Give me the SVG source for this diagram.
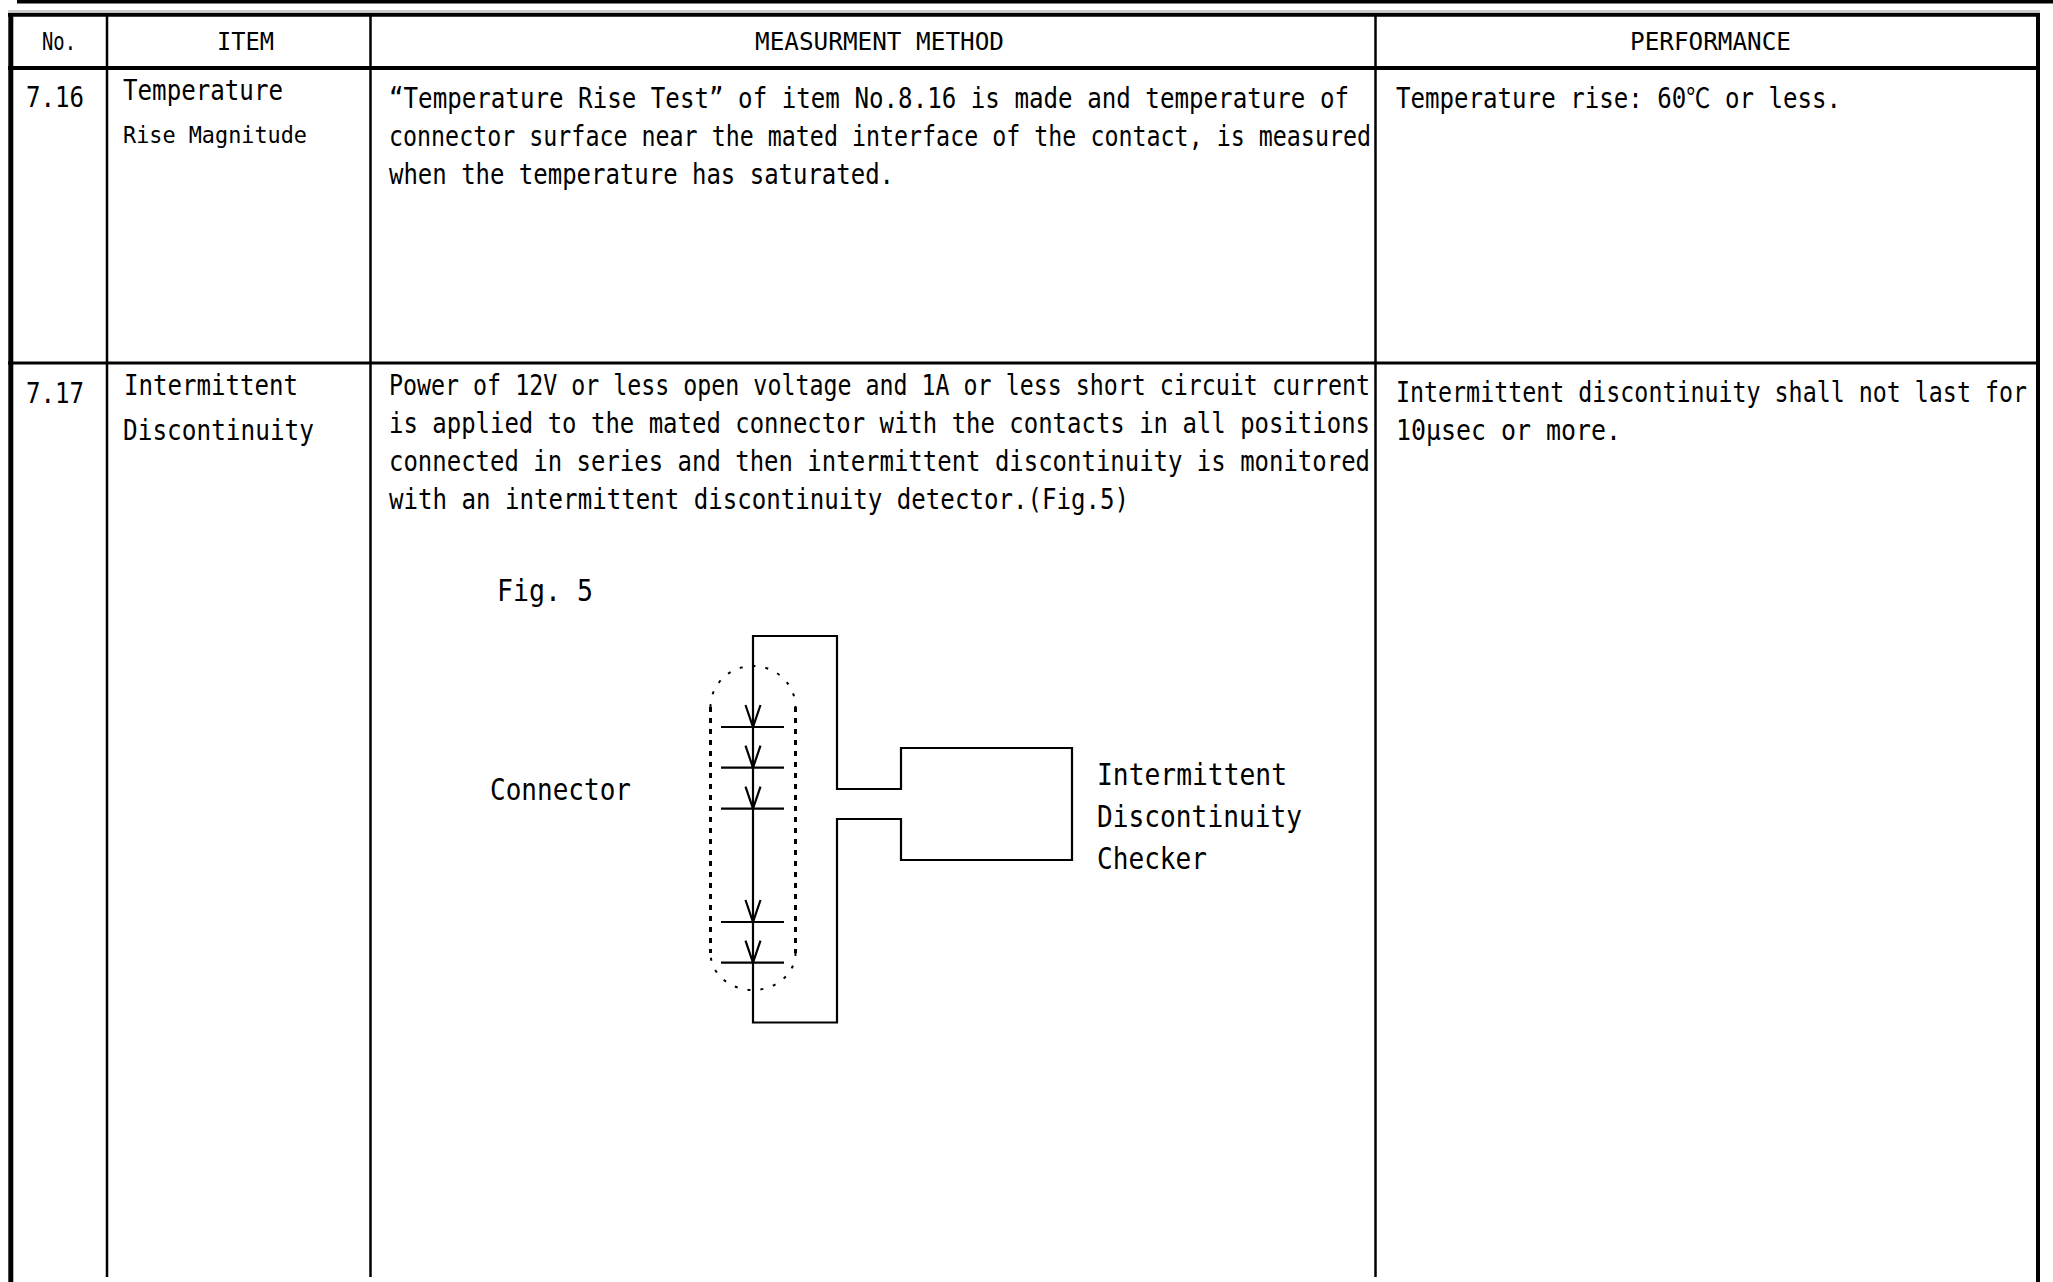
<svg xmlns="http://www.w3.org/2000/svg" width="2053" height="1282" viewBox="0 0 2053 1282">
<style>
.t{font-family:"DejaVu Sans Mono","Liberation Mono","Noto Sans CJK JP",monospace;fill:#000;font-size:23.3px}
.h{font-size:24px}
.s{font-size:21.8px}
.i{font-size:24.1px}
.f{font-size:26.2px}
.grid{stroke:#000;fill:none}
.w{stroke:#000;stroke-width:2.2;fill:none;stroke-linejoin:miter}
.dot{stroke:#000;fill:none}
</style>
<rect width="2053" height="1282" fill="#fff"/>
<g id="table">
<rect x="17" y="0" width="2036" height="3.5" fill="#000"/>
<line x1="8" y1="11" x2="2040" y2="11" stroke="#999" stroke-width="1"/>
<line class="grid" x1="8" y1="14.7" x2="2040" y2="14.7" stroke-width="4"/>
<line class="grid" x1="10.8" y1="13" x2="10.8" y2="1282" stroke-width="5"/>
<line class="grid" x1="2038" y1="13" x2="2038" y2="1282" stroke-width="4"/>
<line class="grid" x1="8" y1="68" x2="2040" y2="68" stroke-width="4"/>
<line class="grid" x1="8" y1="363" x2="2040" y2="363" stroke-width="3"/>
<line class="grid" x1="107" y1="15" x2="107" y2="1277" stroke-width="2.5"/>
<line class="grid" x1="370.5" y1="15" x2="370.5" y2="1277" stroke-width="2.5"/>
<line class="grid" x1="1375.5" y1="15" x2="1375.5" y2="1277" stroke-width="2.5"/>
</g>
<g id="header">
<text class="t h" transform="translate(42 50) scale(1 1.05)" textLength="34" lengthAdjust="spacingAndGlyphs">No.</text>
<text class="t h" transform="translate(217 50) scale(1 1.05)" textLength="57" lengthAdjust="spacingAndGlyphs">ITEM</text>
<text class="t h" transform="translate(755 50) scale(1 1.05)" textLength="249" lengthAdjust="spacingAndGlyphs">MEASURMENT METHOD</text>
<text class="t h" transform="translate(1630 50) scale(1 1.05)" textLength="161" lengthAdjust="spacingAndGlyphs">PERFORMANCE</text>
</g>
<g id="row-7-16">
<text class="t" transform="translate(26 107) scale(1 1.18)" textLength="58" lengthAdjust="spacingAndGlyphs">7.16</text>
<text class="t i" transform="translate(123 100) scale(1 1.14)" textLength="160" lengthAdjust="spacingAndGlyphs">Temperature</text>
<text class="t s" transform="translate(123 143) scale(1 1.02)" textLength="184" lengthAdjust="spacingAndGlyphs">Rise Magnitude</text>
<text class="t" transform="translate(389 108) scale(1 1.18)" textLength="960" lengthAdjust="spacingAndGlyphs">“Temperature Rise Test” of item No.8.16 is made and temperature of</text>
<text class="t" transform="translate(389 146) scale(1 1.18)" textLength="982" lengthAdjust="spacingAndGlyphs">connector surface near the mated interface of the contact, is measured</text>
<text class="t" transform="translate(389 184) scale(1 1.18)" textLength="505" lengthAdjust="spacingAndGlyphs">when the temperature has saturated.</text>
<text class="t" transform="translate(1396 108) scale(1 1.18)" textLength="445" lengthAdjust="spacingAndGlyphs">Temperature rise: 60℃ or less.</text>
</g>
<g id="row-7-17">
<text class="t" transform="translate(26 403) scale(1 1.18)" textLength="58" lengthAdjust="spacingAndGlyphs">7.17</text>
<text class="t i" transform="translate(124 395) scale(1 1.14)" textLength="174" lengthAdjust="spacingAndGlyphs">Intermittent</text>
<text class="t i" transform="translate(123 440) scale(1 1.14)" textLength="191" lengthAdjust="spacingAndGlyphs">Discontinuity</text>
<text class="t" transform="translate(389 395) scale(1 1.18)" textLength="981" lengthAdjust="spacingAndGlyphs">Power of 12V or less open voltage and 1A or less short circuit current</text>
<text class="t" transform="translate(389 433) scale(1 1.18)" textLength="981" lengthAdjust="spacingAndGlyphs">is applied to the mated connector with the contacts in all positions</text>
<text class="t" transform="translate(389 471) scale(1 1.18)" textLength="981" lengthAdjust="spacingAndGlyphs">connected in series and then intermittent discontinuity is monitored</text>
<text class="t" transform="translate(389 509) scale(1 1.18)" textLength="740" lengthAdjust="spacingAndGlyphs">with an intermittent discontinuity detector.(Fig.5)</text>
<text class="t" transform="translate(1396 402) scale(1 1.18)" textLength="631" lengthAdjust="spacingAndGlyphs">Intermittent discontinuity shall not last for</text>
<text class="t" transform="translate(1396 440) scale(1 1.18)" textLength="225" lengthAdjust="spacingAndGlyphs">10μsec or more.</text>
<text class="t f" transform="translate(497 601) scale(1 1.12)" textLength="96" lengthAdjust="spacingAndGlyphs">Fig. 5</text>
</g>
<g id="connector">
<path class="dot" stroke-width="3" stroke-dasharray="5 6" d="M710.5 707 V953 M795.5 707 V953"/>
<path class="dot" stroke-width="2" stroke-dasharray="3 10" d="M710.5 707 A42.5 41 0 0 1 795.5 707 M795.5 953 A42.5 37 0 0 1 710.5 953"/>
<g class="w">
<line x1="721" y1="727" x2="784" y2="727"/>
<line x1="721" y1="767.7" x2="784" y2="767.7"/>
<line x1="721" y1="808.7" x2="784" y2="808.7"/>
<line x1="721" y1="922" x2="784" y2="922"/>
<line x1="721" y1="962.7" x2="784" y2="962.7"/>
<polyline points="745.5,705 753,727 760.5,705"/>
<polyline points="745.5,745.7 753,767.7 760.5,745.7"/>
<polyline points="745.5,786.7 753,808.7 760.5,786.7"/>
<polyline points="745.5,900 753,922 760.5,900"/>
<polyline points="745.5,940.7 753,962.7 760.5,940.7"/>
</g>
<text class="t f" transform="translate(490 800) scale(1 1.15)" textLength="141" lengthAdjust="spacingAndGlyphs">Connector</text>
</g>
<g id="checker">
<text class="t f" transform="translate(1097 785) scale(1 1.15)" textLength="190" lengthAdjust="spacingAndGlyphs">Intermittent</text>
<text class="t f" transform="translate(1097 827) scale(1 1.15)" textLength="205" lengthAdjust="spacingAndGlyphs">Discontinuity</text>
<text class="t f" transform="translate(1097 869) scale(1 1.15)" textLength="110" lengthAdjust="spacingAndGlyphs">Checker</text>
</g>
<g id="connectors">
<path class="w" d="M753 636 H837 V789 H901 V748 H1072 V860 H901 V819 H837 V1022.5 H753 Z"/>
</g>
</svg>
